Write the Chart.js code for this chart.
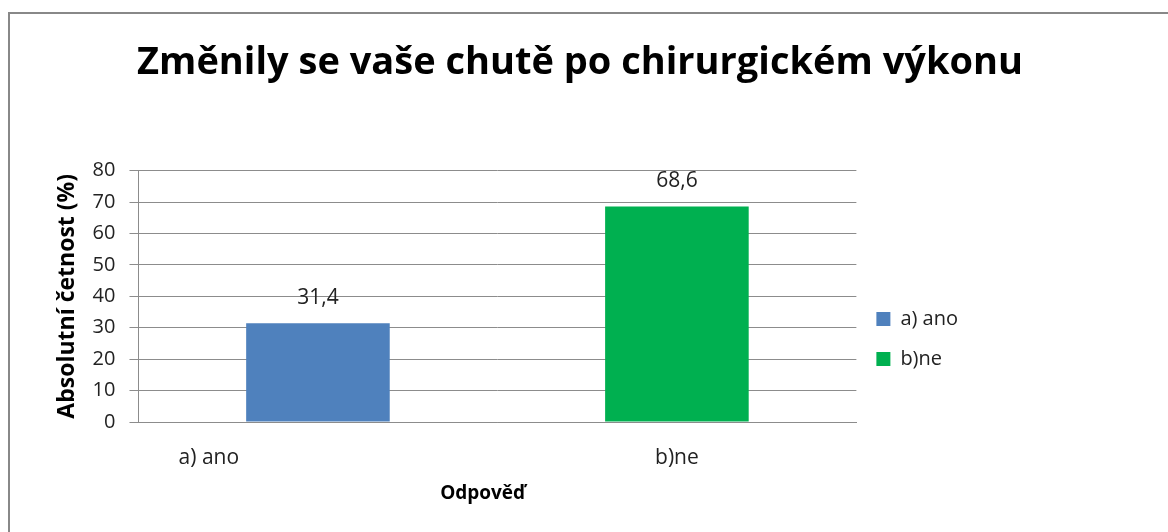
<!DOCTYPE html>
<html>
<head>
<meta charset="utf-8">
<script src="https://cdn.jsdelivr.net/npm/chart.js@4"></script>
<style>
  html, body { margin: 0; padding: 0; background: #fff; overflow: hidden; }
  #box {
    position: absolute; left: 8px; top: 12px;
    width: 1170px; height: 530px;
    border: 2px solid #888;
  }
  #chart { display: block; }
</style>
</head>
<body>
<div id="box"><canvas id="chart" width="1170" height="530"></canvas></div>
<script>
// chart data
const chartTitle = "Změnily se vaše chutě po chirurgickém výkonu";
const categories = ["a) ano", "b)ne"];
const values = [31.4, 68.6];
const barColors = ["#4F81BD", "#00B050"];
const yTicks = [0, 10, 20, 30, 40, 50, 60, 70, 80];
const xTitle = "Odpověď";
const yTitle = "Absolutní četnost (%)";

const FONT = "'Open Sans', sans-serif";
const GRID = "#8c8c8c";
const TEXT = "#222";

// value labels above bars (decimal comma like in the original)
const barLabels = {
  id: "barLabels",
  afterDatasetsDraw(chart) {
    const ctx = chart.ctx;
    const meta = chart.getDatasetMeta(0);
    ctx.save();
    ctx.font = "21px " + FONT;
    ctx.fillStyle = TEXT;
    ctx.textAlign = "center";
    ctx.textBaseline = "middle";
    meta.data.forEach((bar, i) => {
      ctx.fillText(String(values[i]).replace(".", ","), bar.x, bar.y - 25);
    });
    ctx.restore();
  }
};

new Chart(document.getElementById("chart"), {
  type: "bar",
  data: {
    labels: categories,
    datasets: [{
      label: "Odpověď",
      data: values,
      backgroundColor: barColors,
      borderWidth: 0,
      categoryPercentage: 1,
      barPercentage: 0.4
    }]
  },
  options: {
    responsive: false,
    animation: false,
    layout: { padding: { left: 44, right: 74, top: 12, bottom: 39 } },
    plugins: {
      title: {
        display: true,
        text: chartTitle,
        color: "#000",
        font: { family: FONT, size: 38, weight: "bold" },
        padding: { top: 14, bottom: 85 }
      },
      legend: {
        position: "right",
        align: "center",
        title: { display: true, text: " ", padding: { top: 135 }, font: { size: 10 } },
        labels: {
          boxWidth: 14,
          boxHeight: 14,
          padding: 20,
          color: TEXT,
          font: { family: FONT, size: 20 },
          generateLabels: () => categories.map((c, i) => ({
            text: c,
            fillStyle: barColors[i],
            strokeStyle: barColors[i],
            fontColor: TEXT,
            lineWidth: 0,
            index: i
          }))
        }
      },
      tooltip: { enabled: false }
    },
    scales: {
      x: {
        grid: { display: false, drawTicks: true, tickLength: 15 },
        border: { display: true, color: GRID, width: 1 },
        ticks: {
          color: TEXT,
          padding: 8,
          maxRotation: 0,
          minRotation: 0,
          autoSkip: false,
          font: { family: FONT, size: 21 },
          // Excel pushed the first label to the left
          callback: (v, i) => i === 0 ? categories[i] + " ".repeat(40) : categories[i]
        },
        title: {
          display: true,
          text: xTitle + " ".repeat(6),
          color: "#000",
          font: { family: FONT, size: 19, weight: "bold" },
          padding: { top: 4, bottom: 0 }
        }
      },
      y: {
        min: 0,
        max: 80,
        afterBuildTicks: axis => { axis.ticks = yTicks.map(v => ({ value: v })); },
        grid: { color: GRID, tickLength: 9, tickColor: GRID },
        border: { display: true, color: GRID },
        ticks: {
          color: TEXT,
          padding: 14,
          font: { family: FONT, size: 20 }
        },
        title: {
          display: true,
          text: yTitle,
          color: "#000",
          font: { family: FONT, size: 23, weight: "bold" },
          padding: { top: 0, bottom: -3 }
        }
      },
      // empty space right of the legend (chart frame continues past the window)
      gap: {
        type: "linear",
        position: "right",
        weight: 2000,
        ticks: { display: false },
        grid: { display: false, drawTicks: false },
        border: { display: false },
        afterFit: s => { s.width = 138; }
      }
    }
  },
  plugins: [barLabels]
});
</script>
</body>
</html>
